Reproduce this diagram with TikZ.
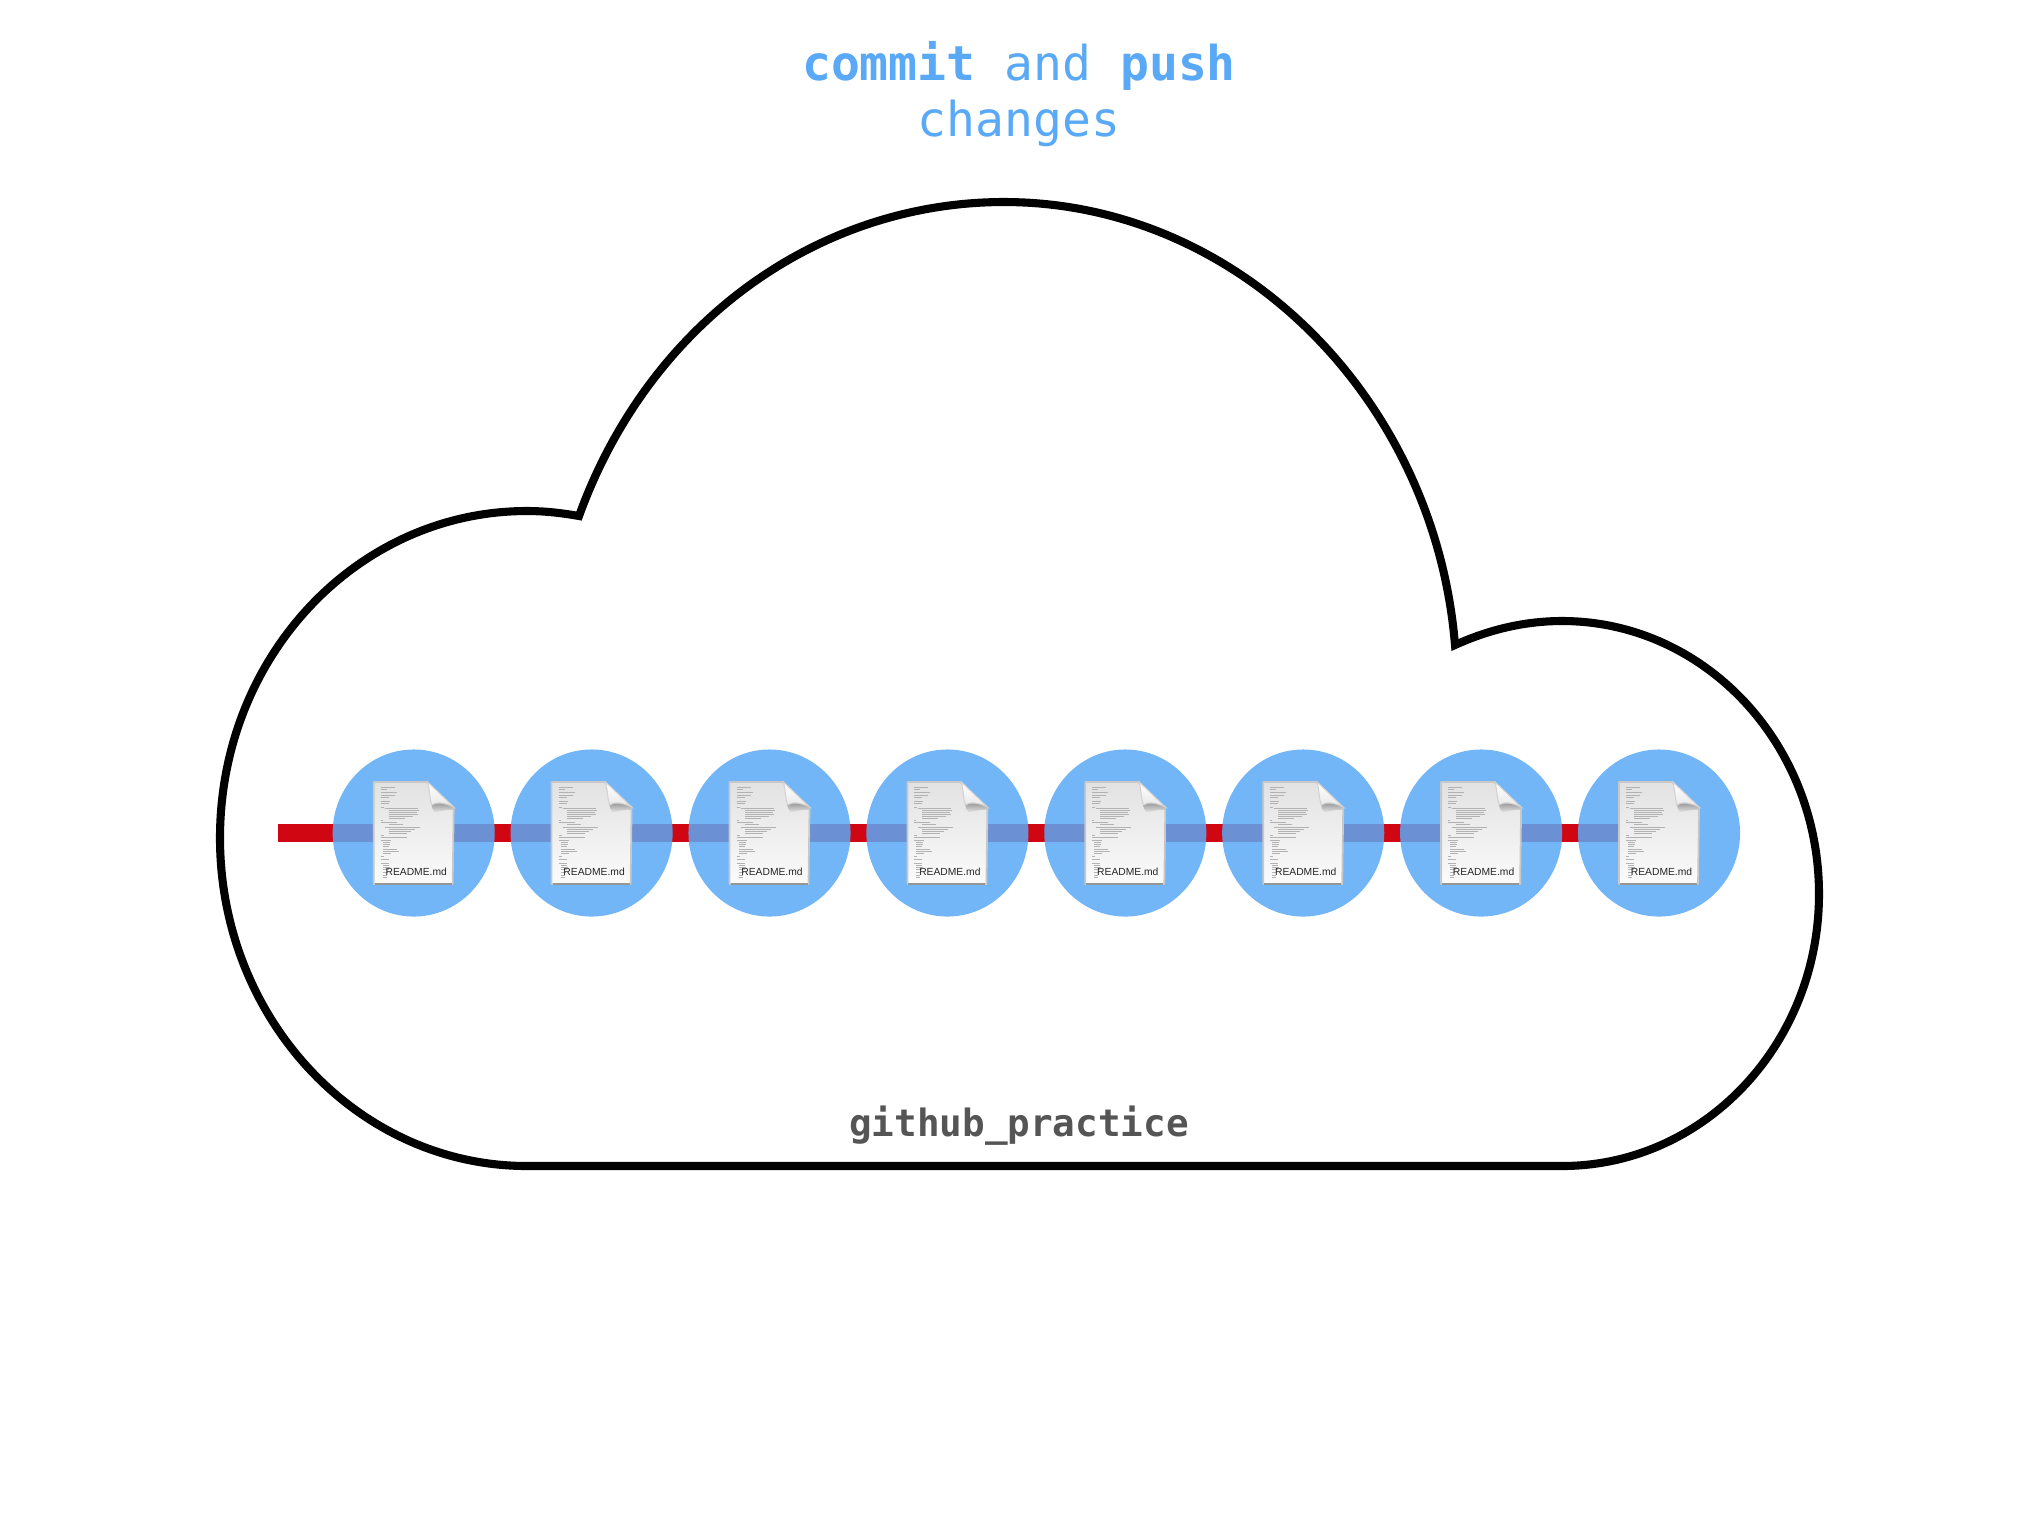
\documentclass[tikz,border=0pt]{standalone}
\usepackage{fontspec}
\setmainfont{Liberation Sans}
\setmonofont{DejaVu Sans Mono}
\usetikzlibrary{positioning, shapes.geometric, backgrounds}
\definecolor{commitcol}{RGB}{90,169,246}
\definecolor{branchcol}{RGB}{208,6,18}
\definecolor{labelcol}{RGB}{85,85,85}
\definecolor{pagetop}{RGB}{226,226,226}
\definecolor{pagebot}{RGB}{251,251,251}
\definecolor{pageedge}{RGB}{200,200,200}

\tikzset{
	readme/.pic={
		% Page
		\path[top color=pagetop, bottom color=pagebot, draw=pageedge, line width=0.5pt, line join=round]
		(-40,-51) -- (13,-51) -- (40,-25) -- (39,51) -- (-40,51) -- cycle;
		\draw[pageedge!75!black, line width=0.5pt] (-39,51) -- (38,51);
		% Code lines
		\foreach \y/\x/\w in {-46/-33/14,-44/-33/6,-41/-33/16,-38/-33/14,-36/-33/8,-32/-33/9,-30/-33/8,-26/-33/3,-25/-29/33,-23/-25/30,-21/-25/28,-19/-25/29,-17/-25/24,-15/-25/16,-13/-33/2,-11/-33/16,-9/-25/14,-6/-29/35,-4/-25/26,-2/-25/22,0/-25/18,2/-33/3,4/-33/26,7/-33/10,9/-31/7,11/-31/7,13/-31/6,16/-31/14,18/-31/16,20/-31/8,23/-33/3,26/-33/8,30/-33/8,32/-31/6,34/-31/7,36/-31/6,39/-31/5,42/-31/4,44/-31/4}
		\draw[gray!60, line width=0.12pt] (\x,\y) -- ++(\w,0);
		% Fold
		\path[top color=gray!85, bottom color=pagetop]
		(18,-28) .. controls (22,-31) and (30,-31) .. (40,-26) -- (40,-23) .. controls (32,-24) and (26,-21) .. (21,-21) .. controls (19,-23) and (18,-25) .. (18,-28) -- cycle;
		\path[top color=white, bottom color=gray!18, draw=gray!35, line width=0.3pt]
		(14,-51) -- (40,-26) .. controls (30,-31) and (22,-31) .. (18,-28) .. controls (16,-34) and (16,-42) .. (14,-51) -- cycle;
	}
}

\begin{document}
\begin{tikzpicture}[
			x=0.01cm,
			y=-0.01cm,
			node distance=1.778cm,
			on grid,
			commitdot/.style={
				ellipse,
				minimum width=1.62cm,
				minimum height=1.67cm,
				inner sep=0pt,
				fill=commitcol,
				fill opacity=0.85
			},
			branchline/.style={
				draw=branchcol,
				line width=5.1pt
			},
			cloudline/.style={
				draw=black,
				line width=2.3pt,
				line join=miter
			},
			filelabel/.style={
				font=\fontsize{2.93}{3.5}\selectfont,
				text=black!85,
				inner sep=0pt,
				anchor=base
			}
			]
			\useasboundingbox (0,0) rectangle (2041,1532);
			% Cloud
			\draw[cloudline]
			(579,516) .. controls (562,513) and (545,511) .. (527,511)
			.. controls (357,511) and (220,657) .. (220,838)
			.. controls (220,1018) and (357,1166) .. (527,1166)
			-- (1562,1166)
			.. controls (1704,1166) and (1819,1044) .. (1819,894)
			.. controls (1819,743) and (1704,621) .. (1562,621)
			.. controls (1524,621) and (1488,630) .. (1455,645)
			.. controls (1435,400) and (1240,202) .. (1004,202)
			.. controls (820,202) and (650,320) .. (579,516) -- cycle;
			% Commits
			\node[commitdot] (c1) at (413.7,833) {};
			\foreach \i [remember=\i as \prev (initially 1)] in {2,...,8}
			\node[commitdot, right=of c\prev] (c\i) {};
			\foreach \i in {1,...,8} {
				\pic at (c\i) {readme};
				\node[filelabel, right=0.025cm of c\i.center, yshift=-4.2mm, anchor=base] (f\i) {README.md};
			}
			% Branch
			\coordinate (start) at (278,833);
			\begin{scope}[on background layer]
				\draw[branchline] (start) -- (c8.center);
			\end{scope}
			% Labels
			\node[font=\fontsize{13.66}{15.9}\selectfont\ttfamily, text=commitcol, align=center] (title) at (1019,94) {\textbf{commit} and \textbf{push}\\changes};
			\node[font=\fontsize{10.7}{13}\selectfont\ttfamily\bfseries, text=labelcol, anchor=base] (repo) at (1019,1136) {github\_practice};
		\end{tikzpicture}
\end{document}
